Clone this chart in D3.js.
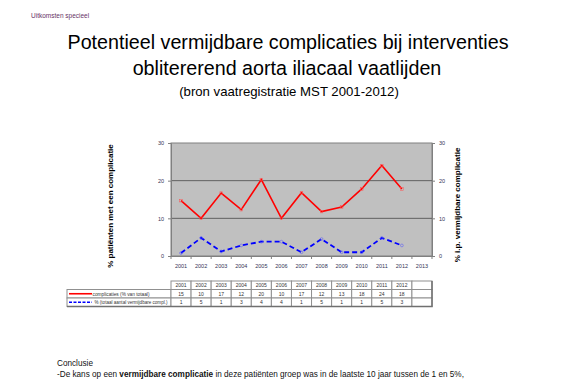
<!DOCTYPE html>
<html>
<head>
<meta charset="utf-8">
<script src="https://cdn.jsdelivr.net/npm/d3@7"></script>
<style>
  body { margin:0; background:#fff; }
  svg { font-family:"Liberation Sans", Arial, sans-serif; }
</style>
</head>
<body>
<div id="chart"></div>
<script>
// data
var years = ['2001','2002','2003','2004','2005','2006','2007','2008','2009','2010','2011','2012','2013'];
var complicaties = [14.7, 10, 16.7, 12.3, 20.3, 10, 16.8, 11.8, 13, 17.8, 24, 17.8];
var vermijdbaar = [0.8, 4.8, 1.2, 2.8, 3.8, 3.8, 1, 4.5, 1, 1, 4.8, 2.8];
var tableComplicaties = ['15','10','17','12','20','10','17','12','13','18','24','18',''];
var tableVermijdbaar = ['1','5','1','3','4','4','1','5','1','1','5','3',''];
var yTicks = [0, 10, 20, 30];
var seriesNames = ['complicaties (% van totaal)', '% (totaal aantal vermijdbare compl.)'];

var W = 585, H = 383;
var svg = d3.select('#chart').append('svg').attr('width', W).attr('height', H);

var plot = {left:171, right:432, top:143, bottom:256};

var x = d3.scaleBand().domain(years).range([plot.left, plot.right]);
var y = d3.scaleLinear().domain([0, 30]).range([plot.bottom, plot.top]);

// header text
svg.append('text').attr('x', 31).attr('y', 18).attr('font-size', 6.5).attr('fill', '#663366')
	.text('Uitkomsten specieel');

var title = svg.append('g').attr('text-anchor', 'middle').attr('fill', '#000');
title.append('text').attr('x', 288).attr('y', 49).attr('font-size', 19.7)
	.text('Potentieel vermijdbare complicaties bij interventies');
title.append('text').attr('x', 287).attr('y', 75).attr('font-size', 19.7)
	.text('oblitererend aorta iliacaal vaatlijden');
title.append('text').attr('x', 289).attr('y', 96).attr('font-size', 13.2)
	.text('(bron vaatregistratie MST 2001-2012)');

// plot area
svg.append('rect').attr('x', plot.left).attr('y', plot.top)
	.attr('width', plot.right - plot.left).attr('height', plot.bottom - plot.top)
	.attr('fill', '#c0c0c0').attr('stroke', '#808080').attr('stroke-width', 1);

svg.append('g').selectAll('line').data(yTicks.filter(function(d){ return d > 0 && d < 30; }))
	.enter().append('line')
	.attr('x1', plot.left).attr('x2', plot.right)
	.attr('y1', function(d){ return y(d); }).attr('y2', function(d){ return y(d); })
	.attr('stroke', '#606060').attr('stroke-width', 1);

// axes
var left = svg.append('g').attr('transform', 'translate(' + plot.left + ',0)')
	.call(d3.axisLeft(y).tickValues(yTicks).tickSize(3).tickPadding(4));
var right = svg.append('g').attr('transform', 'translate(' + plot.right + ',0)')
	.call(d3.axisRight(y).tickValues(yTicks).tickSize(3).tickPadding(4));
var bottom = svg.append('g').attr('transform', 'translate(0,' + plot.bottom + ')')
	.call(d3.axisBottom(x).tickSize(0).tickPadding(8));

[left, right, bottom].forEach(function(a){
	a.select('.domain').attr('stroke', '#808080');
	a.selectAll('.tick line').attr('stroke', '#808080');
	a.selectAll('text').attr('font-size', 5.5).attr('fill', '#333355')
		.attr('font-family', '"Liberation Sans", Arial, sans-serif');
});

// x ticks on category boundaries
svg.append('g').selectAll('line').data(years.concat(['end']))
	.enter().append('line')
	.attr('x1', function(d,i){ return plot.left + i * x.step(); })
	.attr('x2', function(d,i){ return plot.left + i * x.step(); })
	.attr('y1', plot.bottom).attr('y2', plot.bottom + 3)
	.attr('stroke', '#808080');

// axis titles
svg.append('text').attr('transform', 'translate(113,206) rotate(-90)')
	.attr('text-anchor', 'middle').attr('font-size', 8).attr('font-weight', 'bold')
	.text('% patiënten met een complicatie');
svg.append('text').attr('transform', 'translate(460,205) rotate(-90)')
	.attr('text-anchor', 'middle').attr('font-size', 8).attr('font-weight', 'bold')
	.text('% i.p. vermijdbare complicatie');

// lines
var cx = function(d,i){ return x(years[i]) + x.bandwidth()/2; };
var line = d3.line().x(cx).y(function(d){ return y(d); });

svg.append('path').datum(complicaties).attr('d', line)
	.attr('fill', 'none').attr('stroke', '#ff0000').attr('stroke-width', 1.6);
svg.append('g').selectAll('rect').data(complicaties).enter().append('rect')
	.attr('x', function(d,i){ return cx(d,i) - 1.3; }).attr('y', function(d){ return y(d) - 1.3; })
	.attr('width', 2.6).attr('height', 2.6)
	.attr('fill', 'none').attr('stroke', '#ff5050').attr('stroke-width', 0.5);

svg.append('path').datum(vermijdbaar).attr('d', line)
	.attr('fill', 'none').attr('stroke', '#0000ff').attr('stroke-width', 1.8)
	.attr('stroke-dasharray', '5,3');
svg.append('g').selectAll('circle').data(vermijdbaar).enter().append('circle')
	.attr('cx', cx).attr('cy', function(d){ return y(d); }).attr('r', 1.4)
	.attr('fill', 'none').attr('stroke', '#5050ff').attr('stroke-width', 0.5);

// data table
var tbl = {left:67, top:281, rowH:8.5};
var colX = function(i){ return plot.left + i * x.step(); };
var table = svg.append('g');
var gridColor = '#909090';

// header row
years.forEach(function(yr, i){
	table.append('rect').attr('x', colX(i)).attr('y', tbl.top)
		.attr('width', x.step()).attr('height', tbl.rowH)
		.attr('fill', '#fff').attr('stroke', gridColor).attr('stroke-width', 1);
	table.append('text').attr('x', colX(i) + x.step()/2).attr('y', tbl.top + 6)
		.attr('text-anchor', 'middle').attr('font-size', 5).attr('fill', '#333')
		.text(i < 12 ? yr : '');
});

var rows = [
	{name: seriesNames[0], vals: tableComplicaties, color: '#ff0000', dash: null, w: 57},
	{name: seriesNames[1], vals: tableVermijdbaar, color: '#0000ff', dash: '3,1.5', w: 73}
];
rows.forEach(function(r, k){
	var ry = tbl.top + tbl.rowH * (k + 1);
	table.append('rect').attr('x', tbl.left).attr('y', ry)
		.attr('width', plot.left - tbl.left).attr('height', tbl.rowH)
		.attr('fill', '#fff').attr('stroke', gridColor).attr('stroke-width', 1);
	table.append('line').attr('x1', 69).attr('x2', 92)
		.attr('y1', ry + tbl.rowH/2).attr('y2', ry + tbl.rowH/2)
		.attr('stroke', r.color).attr('stroke-width', 1.6)
		.attr('stroke-dasharray', r.dash);
	table.append('text').attr('x', k === 0 ? 92.5 : 94.5).attr('y', ry + 6)
		.attr('font-size', 4.8).attr('fill', '#333')
		.attr('textLength', r.w).attr('lengthAdjust', 'spacingAndGlyphs')
		.text(r.name);
	r.vals.forEach(function(v, i){
		table.append('rect').attr('x', colX(i)).attr('y', ry)
			.attr('width', x.step()).attr('height', tbl.rowH)
			.attr('fill', '#fff').attr('stroke', gridColor).attr('stroke-width', 1);
		table.append('text').attr('x', colX(i) + x.step()/2).attr('y', ry + 6)
			.attr('text-anchor', 'middle').attr('font-size', 5).attr('fill', '#333')
			.text(v);
	});
});
// outer shadow border
table.append('path')
	.attr('d', 'M' + plot.right + ',' + tbl.top + 'V' + (tbl.top + tbl.rowH*3) + 'H' + tbl.left)
	.attr('fill', 'none').attr('stroke', '#707070').attr('stroke-width', 1.5);

// conclusion
svg.append('text').attr('x', 57).attr('y', 366).attr('font-size', 8.2).attr('fill', '#111')
	.text('Conclusie');
var c = svg.append('text').attr('x', 57).attr('y', 377).attr('font-size', 8.2).attr('fill', '#111');
c.append('tspan').text('-De kans op een ');
c.append('tspan').attr('font-weight', 'bold').text('vermijdbare complicatie');
c.append('tspan').text(' in deze patiënten groep was in de laatste 10 jaar tussen de 1 en 5%,');
</script>
</body>
</html>
